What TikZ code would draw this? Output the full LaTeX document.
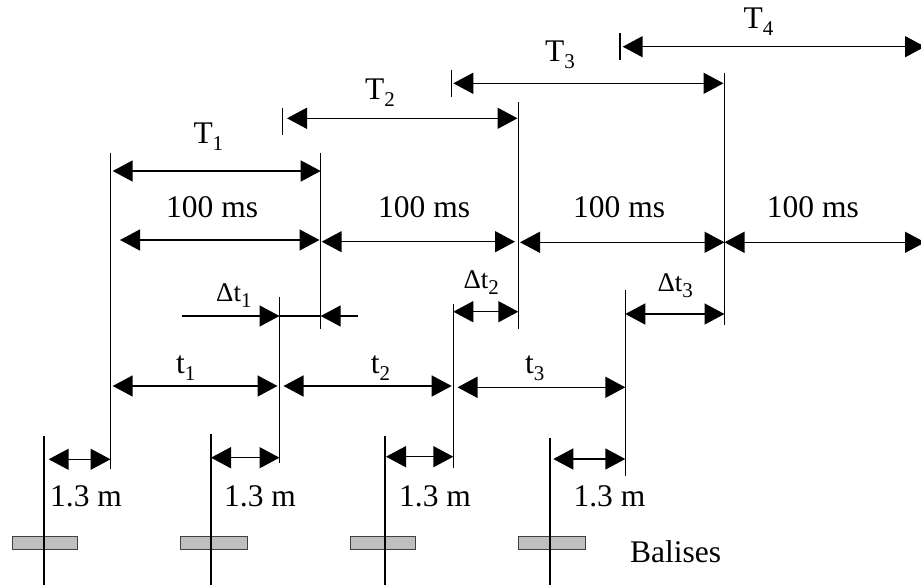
\documentclass[tikz,border=0pt]{standalone}
\usepackage{fontspec}
\setmainfont{Liberation Serif}
\usetikzlibrary{arrows.meta}
\newcommand\bigsub[2]{#1\raisebox{-0.22em}{\fontsize{21}{21}\selectfont #2}}
\newcommand\dsub[2]{{\fontsize{27}{29}\selectfont #1\raisebox{-0.22em}{\fontsize{21}{21}\selectfont #2}}}
\tikzset{
  tip/.tip={Triangle[length=20pt,width=21pt]},
  dim/.style={line width=1.5pt,{tip}-{tip}},
  dimr/.style={line width=1.5pt,-{tip}},
  plain/.style={line width=1.5pt},
  vline/.style={line width=1.1pt},
  lab/.style={inner sep=0pt,anchor=base west,font=\fontsize{31.5}{36}\selectfont},
  balise/.style={draw=black!75,line width=1pt,fill=black!25},
}
\begin{document}
\begin{tikzpicture}[x=1pt,y=-1pt]
\useasboundingbox (0,0) rectangle (921,585);
% ---- coordinates: event vertical lines
\coordinate (v1t) at (110.5,153); \coordinate (v1b) at (110.5,469);
\coordinate (v2t) at (279.5,297); \coordinate (v2b) at (279.5,463);
\coordinate (v3t) at (320.7,153); \coordinate (v3b) at (320.7,329);
\coordinate (v4t) at (453.3,304); \coordinate (v4b) at (453.3,468);
\coordinate (v5t) at (518.3,102); \coordinate (v5b) at (518.3,329);
\coordinate (v6t) at (625.3,290); \coordinate (v6b) at (625.3,476);
\coordinate (v7t) at (724.5,73);  \coordinate (v7b) at (724.5,325);
% ticks
\coordinate (k2t) at (282.3,108); \coordinate (k2b) at (282.3,135);
\coordinate (k3t) at (451.7,70);  \coordinate (k3b) at (451.7,97);
\coordinate (k4t) at (620,33);    \coordinate (k4b) at (620,60);
% balises
\foreach \i/\x/\l/\r/\t in {1/44/12/77.7/436, 2/211/180.7/247/434, 3/385/350/415.7/436, 4/550/518.7/585.3/438}{
  \coordinate (b\i t) at (\x,\t);
  \coordinate (b\i b) at (\x,586);
  \coordinate (r\i a) at (\l,536);
  \coordinate (r\i b) at (\r,549);
}
% ---- balise bodies and lines
\foreach \i in {1,2,3,4}{
  \draw[balise] (r\i a) rectangle (r\i b);
  \draw[vline] (b\i t) -- (b\i b);
}
% ---- vertical lines
\foreach \i in {1,...,7}{ \draw[vline] (v\i t) -- (v\i b); }
\foreach \i in {2,3,4}{ \draw[vline] (k\i t) -- (k\i b); }
% ---- T arrows
\coordinate (T1a) at (112.7,171);   \coordinate (T1b) at (320.7,171);
\coordinate (T2a) at (287,118.3);   \coordinate (T2b) at (517.5,118.3);
\coordinate (T3a) at (453.3,83.3);  \coordinate (T3b) at (723.5,83.3);
\coordinate (T4a) at (622.7,46.7);  \coordinate (T4b) at (925,46.7);
\foreach \i in {1,...,4}{ \draw[dim] (T\i a) -- (T\i b); }
% ---- 100 ms arrows
\coordinate (H1a) at (120,240);     \coordinate (H1b) at (319.5,240);
\coordinate (H2a) at (321.7,241.7); \coordinate (H2b) at (515,241.7);
\coordinate (H3a) at (520,242.3);   \coordinate (H3b) at (724.5,242.3);
\coordinate (H4a) at (724.5,242.3); \coordinate (H4b) at (925,242.3);
\foreach \i in {1,...,4}{ \draw[dim] (H\i a) -- (H\i b); }
% ---- delta t arrows
\coordinate (D1a) at (181.7,316); \coordinate (D1m) at (279.5,316);
\coordinate (D1n) at (320.7,316); \coordinate (D1b) at (357.7,316);
\draw[dimr] (D1a) -- (D1m);
\draw[plain] (D1m) -- (D1n);
\draw[dimr] (D1b) -- (D1n);
\coordinate (D2a) at (453.3,311.7); \coordinate (D2b) at (518.3,311.7);
\coordinate (D3a) at (625.3,314);   \coordinate (D3b) at (724.5,314);
\draw[dim] (D2a) -- (D2b);
\draw[dim] (D3a) -- (D3b);
% ---- t arrows
\coordinate (t1a) at (112.7,386);   \coordinate (t1b) at (277.5,386);
\coordinate (t2a) at (283.5,386);   \coordinate (t2b) at (451.7,386);
\coordinate (t3a) at (457.5,387.3); \coordinate (t3b) at (625.3,387.3);
\foreach \i in {1,2,3}{ \draw[dim] (t\i a) -- (t\i b); }
% ---- 1.3 m arrows
\coordinate (m1a) at (48.7,459.3);  \coordinate (m1b) at (110.5,459.3);
\coordinate (m2a) at (211,457.7);   \coordinate (m2b) at (279.5,457.7);
\coordinate (m3a) at (386,456.7);   \coordinate (m3b) at (453.3,456.7);
\coordinate (m4a) at (553.3,459);   \coordinate (m4b) at (625.3,459);
\foreach \i in {1,...,4}{ \draw[dim] (m\i a) -- (m\i b); }
% ---- labels
\node[lab] (lT1) at (193.3,144) {\bigsub{T}{1}};
\node[lab] (lT2) at (365,100)   {\bigsub{T}{2}};
\node[lab] (lT3) at (545,61.7)  {\bigsub{T}{3}};
\node[lab] (lT4) at (743.3,28.3){\bigsub{T}{4}};
\node[lab] (lH1) at (166,218)   {100 ms};
\node[lab] (lH2) at (378,218)   {100 ms};
\node[lab] (lH3) at (573,218)   {100 ms};
\node[lab] (lH4) at (766.7,218) {100 ms};
\node[lab] (lD1) at (216,301.7) {\dsub{Δt}{1}};
\node[lab] (lD2) at (463.3,288.3){\dsub{Δt}{2}};
\node[lab] (lD3) at (657.3,291.7){\dsub{Δt}{3}};
\node[lab] (lt1) at (176,373.3) {\bigsub{t}{1}};
\node[lab] (lt2) at (370.7,373.3){\bigsub{t}{2}};
\node[lab] (lt3) at (525,373.3) {\bigsub{t}{3}};
\node[lab] (lm1) at (50,506.7)  {1.3 m};
\node[lab] (lm2) at (224,506.7) {1.3 m};
\node[lab] (lm3) at (399,506.7) {1.3 m};
\node[lab] (lm4) at (573.3,506.7){1.3 m};
\node[lab] (lbal) at (630,562.7) {Balises};
\end{tikzpicture}
\end{document}
